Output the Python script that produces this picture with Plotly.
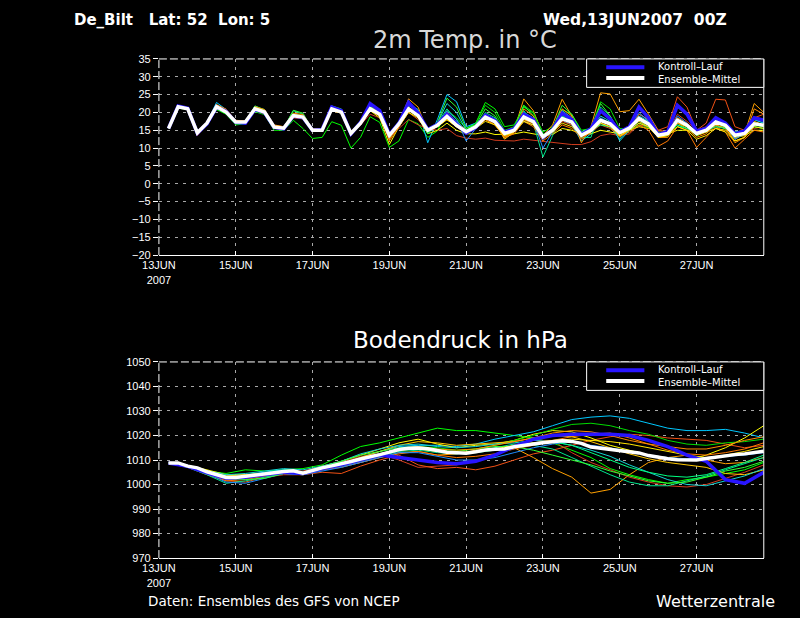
import pandas as pd
import plotly.graph_objects as go

# ---------------- time axis ----------------
times6 = pd.date_range("2007-06-13 06:00", periods=63, freq="6h")
times12 = pd.date_range("2007-06-13 06:00", periods=32, freq="12h")
tick_dates = ["2007-06-13", "2007-06-15", "2007-06-17", "2007-06-19",
              "2007-06-21", "2007-06-23", "2007-06-25", "2007-06-27"]
tick_text = ["13JUN<br>2007", "15JUN", "17JUN", "19JUN", "21JUN", "23JUN", "25JUN", "27JUN"]
temp_ticks = [-20, -15, -10, -5, 0, 5, 10, 15, 20, 25, 30, 35]
pres_ticks = [970, 980, 990, 1000, 1010, 1020, 1030, 1040, 1050]

# ---------------- 2m temperature (6-hourly, 06Z 13JUN .. 18Z 28JUN) ----------------
temp_mean = [
    15.5, 21.6, 21.0, 14.3, 17.0, 21.6, 20.1, 17.3, 17.3, 21.0, 20.1, 15.9, 15.6, 19.1, 18.7, 15.0,
    15.0, 21.0, 20.1, 14.1, 17.0, 21.0, 19.5, 13.6, 16.8, 21.0, 19.1, 15.0, 16.4, 18.9, 16.4, 14.6,
    16.0, 18.7, 17.4, 14.1, 15.0, 18.7, 17.4, 13.2, 15.0, 18.3, 17.3, 13.6, 15.0, 17.8, 16.8, 14.3,
    15.6, 18.3, 16.8, 13.6, 14.1, 17.8, 16.4, 14.1, 15.0, 17.3, 16.4, 13.6, 14.1, 16.8, 16.4]
temp_control = [
    15.5, 21.8, 21.2, 14.2, 16.8, 21.5, 20.3, 17.2, 17.0, 20.8, 20.0, 15.8, 15.4, 19.0, 18.6, 15.0,
    15.2, 21.5, 20.5, 14.0, 17.2, 22.5, 20.5, 13.8, 17.0, 22.8, 19.8, 15.2, 16.6, 19.5, 16.8, 14.2,
    15.8, 19.2, 17.8, 14.5, 15.4, 19.5, 18.0, 13.0, 15.2, 19.8, 18.0, 13.8, 15.4, 20.5, 18.2, 14.6,
    16.0, 21.5, 18.5, 13.8, 14.6, 22.0, 19.5, 14.8, 15.5, 18.5, 17.0, 14.0, 14.8, 18.5, 17.8]
t_m01 = [
    15.4, 21.2, 20.8, 14.0, 16.5, 20.8, 19.5, 16.5, 16.8, 20.2, 19.4, 15.0, 15.0, 17.8, 15.5, 12.7,
    13.0, 17.4, 16.4, 10.0, 13.0, 18.8, 17.2, 10.2, 12.0, 18.0, 16.8, 13.0, 14.8, 20.5, 18.5, 15.5,
    17.0, 22.8, 21.0, 16.0, 16.5, 21.5, 19.8, 14.5, 16.0, 20.8, 19.5, 15.0, 15.5, 18.0, 16.5, 15.2,
    15.0, 16.5, 15.8, 14.5, 14.5, 16.0, 15.5, 14.8, 15.0, 16.2, 15.8, 14.5, 14.6, 16.0, 15.5]
t_m02 = [
    15.6, 21.8, 21.3, 14.5, 17.2, 22.8, 20.8, 17.5, 17.4, 21.8, 20.6, 16.0, 15.8, 19.6, 19.0, 15.2,
    15.2, 21.8, 20.6, 14.5, 17.5, 22.0, 20.0, 14.0, 17.5, 22.5, 20.8, 11.5, 18.0, 25.0, 23.0, 16.0,
    17.0, 19.0, 17.5, 13.5, 14.5, 17.5, 16.5, 12.5, 14.8, 17.8, 16.5, 12.0, 14.0, 17.0, 15.8, 12.5,
    15.5, 19.5, 18.0, 14.0, 14.5, 21.5, 19.5, 15.0, 15.5, 18.0, 16.8, 12.5, 14.5, 18.2, 17.5]
t_m03 = [
    15.5, 21.5, 21.2, 14.6, 17.2, 22.0, 20.8, 17.6, 17.5, 21.5, 20.5, 16.2, 15.8, 19.4, 19.2, 15.2,
    15.0, 20.8, 20.3, 14.6, 16.5, 21.5, 20.2, 12.5, 17.0, 23.8, 21.5, 14.5, 16.0, 20.0, 17.5, 15.0,
    15.8, 19.5, 18.0, 13.0, 15.0, 23.8, 20.5, 13.5, 16.5, 23.7, 19.0, 11.5, 16.0, 25.5, 25.2, 20.2,
    20.5, 23.7, 19.5, 15.0, 14.5, 18.5, 17.0, 13.5, 14.5, 17.0, 16.0, 12.5, 14.0, 22.5, 20.0]
t_m04 = [
    15.5, 21.4, 20.8, 13.5, 16.8, 21.0, 20.0, 17.0, 17.0, 20.5, 19.6, 15.6, 15.2, 18.5, 18.2, 14.8,
    14.8, 20.5, 19.8, 13.8, 16.5, 19.5, 18.5, 14.0, 15.5, 18.0, 16.5, 15.5, 15.0, 15.5, 13.5, 12.8,
    12.5, 12.8, 12.2, 12.0, 12.0, 12.5, 12.2, 11.8, 11.5, 11.2, 11.0, 11.0, 11.8, 13.5, 14.0, 13.5,
    14.0, 16.5, 16.0, 15.0, 14.5, 19.5, 17.5, 15.0, 16.0, 18.0, 16.5, 14.5, 14.0, 15.5, 16.0]
t_m05 = [
    15.4, 21.6, 21.0, 14.0, 17.0, 21.8, 20.5, 17.0, 17.2, 20.8, 20.0, 15.5, 15.4, 18.8, 18.4, 14.8,
    14.8, 20.6, 20.0, 13.5, 16.8, 20.5, 19.0, 12.8, 16.0, 20.0, 18.0, 14.8, 16.5, 18.5, 16.0, 14.0,
    15.5, 18.5, 17.0, 13.5, 14.5, 18.0, 16.5, 12.5, 14.5, 17.5, 16.5, 13.5, 14.5, 16.5, 15.5, 13.5,
    15.0, 19.5, 18.0, 15.0, 16.0, 24.4, 21.5, 15.0, 17.0, 23.7, 23.5, 16.0, 15.0, 18.5, 19.5]
t_m06 = [
    15.5, 21.5, 20.9, 14.4, 16.9, 21.2, 19.8, 17.0, 17.0, 20.6, 19.8, 16.0, 15.6, 19.0, 18.5, 15.0,
    15.0, 20.5, 19.8, 14.0, 16.5, 20.5, 18.5, 11.0, 16.0, 20.0, 18.5, 14.0, 15.0, 17.0, 15.0, 14.0,
    14.0, 14.5, 13.8, 13.8, 14.0, 14.5, 14.0, 13.5, 13.8, 15.5, 15.0, 14.0, 14.0, 15.0, 14.5, 14.0,
    15.0, 16.0, 15.5, 14.5, 14.0, 15.0, 15.0, 14.0, 14.5, 15.5, 15.0, 13.0, 13.5, 15.0, 15.0]
t_m07 = [
    15.6, 21.7, 21.1, 14.6, 17.1, 21.6, 20.2, 17.4, 17.4, 21.2, 20.3, 16.2, 15.8, 19.8, 19.0, 15.3,
    15.1, 21.2, 20.4, 14.4, 17.2, 21.5, 20.8, 13.0, 17.0, 21.0, 20.0, 15.5, 16.8, 18.5, 16.5, 15.0,
    17.0, 22.0, 20.0, 15.0, 16.0, 22.0, 20.0, 14.0, 14.0, 19.0, 18.0, 14.0, 15.5, 23.0, 21.0, 15.5,
    15.5, 18.5, 17.0, 13.5, 13.5, 17.0, 16.0, 14.0, 15.0, 17.0, 16.0, 13.5, 14.0, 16.5, 16.0]
t_m08 = [
    15.5, 21.6, 21.0, 14.3, 17.0, 21.8, 20.4, 17.2, 17.2, 21.0, 20.0, 15.8, 15.5, 20.5, 19.5, 15.0,
    15.0, 21.0, 20.0, 14.2, 17.0, 22.0, 20.0, 14.0, 17.0, 22.0, 20.5, 14.0, 17.0, 21.0, 18.0, 14.5,
    16.0, 20.0, 18.5, 13.5, 15.0, 20.5, 17.0, 7.5, 13.5, 19.0, 17.0, 13.0, 13.0, 21.5, 19.0, 14.5,
    15.5, 17.5, 16.5, 14.0, 14.5, 16.5, 15.5, 14.0, 14.5, 16.5, 15.5, 14.0, 14.0, 17.0, 16.5]
t_m09 = [
    15.5, 21.5, 20.9, 14.0, 16.8, 21.4, 20.0, 17.0, 17.0, 20.6, 19.8, 15.8, 15.2, 18.6, 18.2, 14.8,
    14.8, 20.8, 19.8, 13.8, 16.5, 21.0, 19.5, 12.0, 16.0, 20.5, 19.0, 15.0, 16.0, 18.0, 16.0, 14.5,
    15.5, 18.0, 16.5, 13.0, 14.0, 17.5, 16.0, 12.0, 14.0, 16.5, 15.5, 13.0, 14.5, 17.0, 16.0, 13.5,
    14.5, 16.5, 15.0, 10.5, 12.0, 16.0, 15.0, 10.2, 13.0, 16.0, 14.5, 10.0, 12.5, 15.0, 14.5]
t_m10 = [
    15.5, 21.7, 21.0, 14.3, 17.0, 21.5, 20.0, 17.2, 17.3, 21.2, 20.3, 16.0, 15.5, 19.2, 18.8, 15.1,
    15.0, 21.3, 20.6, 14.5, 17.0, 22.5, 20.8, 14.0, 17.0, 22.0, 20.0, 14.5, 16.5, 20.5, 18.0, 12.0,
    15.5, 18.5, 17.0, 14.0, 15.0, 19.0, 17.5, 10.0, 14.5, 19.5, 17.5, 13.5, 15.0, 18.5, 17.0, 15.0,
    16.0, 20.0, 17.5, 13.0, 14.0, 19.0, 17.0, 14.0, 15.0, 18.0, 16.5, 12.5, 14.0, 18.0, 17.0]
t_m11 = [
    15.5, 21.4, 21.0, 14.5, 17.0, 21.5, 20.0, 17.5, 17.5, 21.4, 20.6, 16.3, 16.0, 19.5, 19.0, 15.3,
    15.3, 21.0, 20.0, 14.3, 17.0, 21.0, 19.0, 12.8, 16.5, 20.5, 19.5, 15.5, 16.0, 18.0, 16.0, 15.0,
    16.0, 18.5, 17.0, 12.5, 14.5, 18.0, 17.0, 13.0, 15.0, 18.5, 17.0, 14.0, 15.0, 17.5, 16.5, 13.0,
    15.5, 17.5, 16.0, 13.0, 13.5, 17.0, 16.0, 13.5, 14.5, 16.5, 15.5, 12.0, 13.0, 17.5, 16.5]
t_m12 = [
    15.5, 21.6, 21.1, 14.4, 17.1, 21.9, 20.5, 17.4, 17.4, 21.0, 20.2, 15.9, 15.6, 19.3, 18.9, 15.0,
    15.0, 21.0, 20.2, 14.2, 17.2, 21.5, 19.8, 13.5, 17.0, 21.5, 19.5, 15.5, 17.0, 22.5, 20.0, 15.0,
    16.5, 19.5, 18.0, 14.0, 15.5, 20.0, 18.5, 12.5, 15.0, 20.5, 18.5, 14.5, 15.5, 19.0, 17.5, 12.0,
    15.0, 19.0, 17.5, 14.0, 14.5, 18.0, 16.5, 14.5, 15.5, 17.5, 16.5, 14.5, 15.0, 18.0, 17.0]
t_m13 = [
    15.5, 21.5, 21.0, 14.4, 17.0, 21.0, 19.8, 16.8, 17.0, 21.8, 20.8, 16.0, 15.6, 20.6, 19.8, 15.2,
    15.2, 21.8, 21.0, 14.5, 17.0, 21.5, 20.5, 13.5, 16.5, 22.5, 20.5, 14.0, 17.0, 24.0, 21.5, 15.5,
    16.5, 21.0, 19.0, 14.5, 15.5, 22.0, 19.0, 13.5, 15.5, 22.0, 19.5, 14.5, 15.0, 22.5, 19.0, 14.0,
    15.5, 18.0, 16.5, 13.5, 14.0, 17.5, 16.0, 13.5, 15.0, 17.0, 16.0, 13.5, 14.5, 16.5, 16.0]
t_m14 = [
    15.6, 21.7, 21.2, 14.7, 17.3, 22.2, 20.9, 17.8, 17.6, 21.6, 20.8, 16.5, 16.0, 19.8, 19.4, 15.5,
    15.4, 21.4, 20.6, 14.8, 17.4, 22.0, 20.0, 12.5, 16.5, 21.5, 19.5, 14.8, 16.5, 19.5, 17.0, 14.0,
    15.5, 18.0, 16.5, 13.0, 14.5, 21.0, 19.0, 12.5, 15.0, 21.0, 19.0, 12.5, 14.5, 17.5, 16.5, 13.5,
    15.0, 18.0, 16.5, 13.0, 13.0, 17.0, 15.5, 13.0, 14.0, 16.5, 15.5, 11.5, 13.0, 21.0, 19.5]
t_m15 = [
    15.5, 21.5, 20.8, 14.2, 16.9, 21.3, 20.0, 17.0, 17.1, 20.8, 19.9, 15.7, 15.4, 19.0, 18.6, 14.9,
    14.9, 20.8, 19.9, 13.9, 16.8, 21.0, 19.5, 13.0, 16.5, 21.0, 19.0, 15.0, 16.0, 19.5, 17.5, 14.5,
    16.0, 19.5, 18.0, 14.0, 15.0, 19.0, 17.5, 13.5, 15.0, 18.5, 17.5, 14.0, 15.0, 16.5, 16.0, 14.5,
    15.0, 17.0, 16.0, 14.0, 14.5, 16.5, 15.5, 14.5, 15.0, 16.0, 15.5, 14.5, 14.5, 16.0, 15.5]
t_m16 = [
    15.5, 21.4, 21.0, 14.3, 17.0, 21.4, 20.1, 17.1, 17.2, 20.9, 20.1, 15.8, 15.5, 19.0, 18.6, 15.0,
    15.0, 20.9, 20.0, 14.0, 17.0, 21.0, 19.5, 13.5, 16.5, 21.0, 19.5, 15.0, 16.0, 18.0, 16.0, 14.5,
    15.5, 17.5, 16.5, 13.5, 14.5, 17.5, 16.5, 13.0, 14.5, 17.0, 16.0, 14.0, 14.5, 17.0, 16.0, 13.5,
    15.0, 17.0, 16.0, 13.0, 13.5, 16.0, 15.0, 12.5, 13.5, 15.5, 14.5, 12.0, 13.0, 16.0, 15.5]

# ---------------- surface pressure ----------------
pres_mean = [  # 6-hourly
    1008.8, 1008.8, 1007.5, 1006.8, 1005.2, 1004.2, 1002.9, 1002.9, 1003.3, 1003.8, 1004.2, 1004.8,
    1005.3, 1005.6, 1004.6, 1005.8, 1006.8, 1007.6, 1008.4, 1009.4, 1010.4, 1011.2, 1012.2, 1013.2,
    1014.3, 1014.8, 1014.9, 1014.6, 1013.8, 1013.2, 1013.0, 1012.8, 1013.4, 1014.1, 1014.4, 1014.5,
    1015.4, 1016.1, 1016.5, 1017.0, 1017.5, 1017.9, 1017.6, 1016.8, 1015.3, 1014.8, 1014.4, 1013.9,
    1013.4, 1012.9, 1011.8, 1011.0, 1010.5, 1010.1, 1009.9, 1010.0, 1010.6, 1011.2, 1011.9, 1012.2,
    1012.5, 1013.0, 1013.6]
# members and control: 12-hourly (06Z / 18Z)
pres_control = [
    1008.8, 1007.4, 1004.8, 1002.6, 1003.0, 1004.0, 1005.0, 1004.5, 1006.5, 1008.0, 1010.0, 1012.0,
    1011.0, 1010.0, 1009.0, 1008.5, 1009.5, 1012.0, 1015.5, 1018.5, 1020.0, 1020.5, 1020.5, 1020.5,
    1020.0, 1018.0, 1015.5, 1012.0, 1009.5, 1002.0, 1000.5, 1005.0]
p_m01 = [
    1008.8, 1007.0, 1005.5, 1004.5, 1006.0, 1005.5, 1006.0, 1006.5, 1008.0, 1012.0, 1015.5, 1017.0,
    1019.0, 1021.0, 1023.0, 1022.0, 1022.0, 1021.0, 1020.0, 1019.0, 1017.0, 1014.0, 1011.0, 1006.5,
    1004.0, 1002.0, 1000.5, 1002.0, 1003.0, 1004.5, 1006.0, 1009.0]
p_m02 = [
    1008.8, 1007.6, 1005.5, 1003.5, 1004.0, 1005.0, 1006.0, 1005.0, 1007.0, 1008.5, 1011.0, 1013.5,
    1015.5, 1016.0, 1016.0, 1015.5, 1016.5, 1018.5, 1020.0, 1021.5, 1024.0, 1026.5, 1027.5, 1028.0,
    1027.0, 1025.0, 1023.0, 1022.0, 1022.0, 1022.5, 1021.0, 1019.0]
p_m03 = [
    1008.8, 1007.2, 1004.5, 1002.0, 1002.5, 1003.5, 1004.5, 1004.0, 1006.0, 1007.5, 1009.0, 1011.0,
    1013.0, 1013.5, 1012.0, 1012.5, 1014.0, 1014.5, 1015.0, 1011.0, 1006.5, 1003.0, 996.5, 998.0,
    1004.0, 1009.0, 1011.0, 1012.0, 1010.0, 1008.5, 1009.0, 1011.0]
p_m04 = [
    1008.8, 1007.5, 1005.0, 1003.0, 1003.5, 1004.5, 1005.5, 1005.5, 1007.5, 1009.0, 1011.5, 1012.5,
    1010.0, 1007.0, 1007.5, 1008.0, 1010.0, 1012.0, 1016.0, 1018.0, 1018.0, 1013.0, 1009.0, 1006.0,
    1003.0, 1001.0, 999.5, 999.0, 1000.0, 1002.5, 1005.0, 1008.0]
p_m05 = [
    1008.8, 1007.0, 1004.0, 1001.5, 1001.0, 1003.0, 1004.0, 1004.0, 1005.0, 1004.5, 1007.5, 1010.0,
    1012.0, 1008.0, 1006.5, 1007.0, 1006.0, 1007.5, 1010.0, 1012.5, 1014.0, 1016.0, 1018.0, 1019.5,
    1020.5, 1020.0, 1019.0, 1018.5, 1018.0, 1016.5, 1015.0, 1016.0]
p_m06 = [
    1008.8, 1007.8, 1006.0, 1004.0, 1004.0, 1004.5, 1005.5, 1005.0, 1007.5, 1009.5, 1012.0, 1014.5,
    1017.0, 1018.5, 1016.5, 1015.0, 1016.0, 1016.5, 1018.0, 1020.5, 1022.0, 1021.5, 1019.0, 1016.0,
    1014.0, 1012.0, 1011.0, 1010.0, 1012.0, 1015.0, 1019.0, 1024.0]
p_m07 = [
    1008.8, 1007.4, 1005.0, 1002.5, 1003.0, 1004.0, 1005.0, 1004.5, 1006.5, 1008.5, 1010.5, 1012.5,
    1014.5, 1015.5, 1015.0, 1014.0, 1014.5, 1016.0, 1018.0, 1020.0, 1022.5, 1024.5, 1025.0, 1024.0,
    1022.0, 1020.5, 1018.0, 1016.5, 1016.0, 1017.0, 1017.5, 1018.5]
p_m08 = [
    1008.8, 1007.0, 1004.0, 1000.5, 1001.5, 1003.0, 1004.5, 1004.0, 1006.0, 1007.5, 1009.5, 1011.5,
    1013.5, 1014.0, 1013.0, 1012.5, 1013.5, 1015.0, 1016.5, 1016.0, 1014.5, 1011.0, 1007.5, 1004.0,
    1001.0, 999.5, 999.5, 1001.5, 1003.5, 1006.0, 1008.5, 1011.0]
p_m09 = [
    1008.8, 1007.3, 1004.5, 1001.5, 1002.0, 1003.5, 1005.0, 1004.5, 1006.0, 1007.0, 1009.0, 1011.0,
    1012.5, 1013.5, 1012.0, 1011.0, 1011.5, 1012.5, 1014.5, 1016.0, 1018.0, 1019.5, 1020.5, 1021.0,
    1019.0, 1016.5, 1014.0, 1012.5, 1012.0, 1013.0, 1014.5, 1017.0]
p_m10 = [
    1008.8, 1007.2, 1004.5, 1001.0, 1000.5, 1002.5, 1004.5, 1004.0, 1005.5, 1007.0, 1009.0, 1011.0,
    1013.0, 1013.0, 1011.5, 1010.0, 1010.0, 1011.0, 1013.0, 1015.0, 1016.5, 1017.5, 1016.0, 1015.0,
    1013.5, 1012.0, 1011.0, 1010.5, 1011.0, 1011.5, 1012.0, 1013.0]
p_m11 = [
    1008.8, 1007.6, 1005.5, 1003.5, 1004.0, 1004.5, 1005.5, 1005.0, 1007.0, 1008.5, 1011.0, 1013.5,
    1016.0, 1017.5, 1017.0, 1016.0, 1016.5, 1017.0, 1017.5, 1019.0, 1020.0, 1019.5, 1017.5, 1015.0,
    1012.5, 1010.5, 1009.0, 1008.0, 1007.0, 1004.5, 1004.0, 1006.0]
p_m12 = [
    1008.8, 1007.8, 1005.5, 1004.0, 1004.5, 1005.5, 1006.5, 1006.0, 1007.5, 1009.5, 1012.5, 1014.5,
    1016.0, 1016.5, 1015.5, 1015.0, 1015.5, 1016.5, 1017.0, 1018.0, 1017.5, 1016.0, 1014.0, 1011.5,
    1008.0, 1005.0, 1002.0, 1000.0, 999.5, 1001.5, 1003.5, 1006.5]
p_m13 = [
    1008.8, 1007.5, 1005.0, 1002.5, 1002.0, 1002.5, 1004.5, 1005.0, 1007.0, 1009.5, 1012.0, 1013.5,
    1015.0, 1015.5, 1014.0, 1013.5, 1014.5, 1015.5, 1015.5, 1014.0, 1012.0, 1010.0, 1008.0, 1005.5,
    1003.5, 1001.5, 1000.5, 1001.0, 1003.0, 1005.5, 1007.0, 1009.5]
p_m14 = [
    1008.8, 1007.6, 1005.0, 1003.0, 1003.5, 1004.5, 1005.5, 1005.0, 1007.0, 1008.5, 1010.5, 1012.5,
    1014.5, 1015.5, 1014.5, 1014.0, 1014.5, 1016.0, 1017.5, 1019.0, 1021.0, 1022.0, 1021.5, 1020.0,
    1018.0, 1016.5, 1015.5, 1014.5, 1014.5, 1016.0, 1018.0, 1019.5]
p_m15 = [
    1008.8, 1007.4, 1005.5, 1003.0, 1003.5, 1004.0, 1005.0, 1004.5, 1006.5, 1008.0, 1010.5, 1012.0,
    1014.0, 1014.5, 1013.5, 1013.0, 1013.0, 1014.0, 1015.5, 1017.0, 1017.5, 1016.0, 1013.0, 1010.0,
    1007.0, 1005.0, 1003.5, 1003.0, 1004.0, 1006.5, 1009.0, 1012.0]
p_m16 = [
    1008.8, 1007.5, 1005.0, 1003.0, 1003.5, 1004.0, 1005.0, 1005.0, 1006.5, 1008.0, 1010.0, 1012.0,
    1014.0, 1014.5, 1013.5, 1013.0, 1013.5, 1014.5, 1016.0, 1017.0, 1018.0, 1018.5, 1018.0, 1017.5,
    1016.5, 1015.0, 1013.5, 1012.0, 1011.0, 1012.0, 1013.5, 1015.5]

member_colors = ["#00ff00", "#00c8ff", "#ffa000", "#d23c1e", "#f05014", "#ffff00", "#00dc00", "#00e68c",
                 "#ff7800", "#1e8cff", "#ffc800", "#14d2d2", "#32ff32", "#ff8c00", "#00ff80", "#ffe600"]
control_color = "#2814ff"
mean_color = "#ffffff"

temp_members = [t_m01, t_m02, t_m03, t_m04, t_m05, t_m06, t_m07, t_m08,
                t_m09, t_m10, t_m11, t_m12, t_m13, t_m14, t_m15, t_m16]
pres_members = [p_m01, p_m02, p_m03, p_m04, p_m05, p_m06, p_m07, p_m08,
                p_m09, p_m10, p_m11, p_m12, p_m13, p_m14, p_m15, p_m16]

# ---------------- figure ----------------
W, H = 800, 618
X0, X1 = 145 / W, 763 / W
TOP = (1 - 254 / H, 1 - 54 / H)
BOT = (1 - 563 / H, 1 - 363 / H)
FONT = "Liberation Sans"
WIDE = "DejaVu Sans"

fig = go.Figure()
for vals, col in zip(temp_members, member_colors):
    fig.add_trace(go.Scatter(x=times6, y=vals, mode="lines", line=dict(color=col, width=1),
                             xaxis="x", yaxis="y", showlegend=False, hoverinfo="skip"))
fig.add_trace(go.Scatter(x=times6, y=temp_control, mode="lines", line=dict(color=control_color, width=3.5),
                         xaxis="x", yaxis="y", showlegend=False, hoverinfo="skip"))
fig.add_trace(go.Scatter(x=times6, y=temp_mean, mode="lines", line=dict(color=mean_color, width=3.5),
                         xaxis="x", yaxis="y", showlegend=False, hoverinfo="skip"))
for vals, col in zip(pres_members, member_colors):
    fig.add_trace(go.Scatter(x=times12, y=vals, mode="lines", line=dict(color=col, width=1),
                             xaxis="x2", yaxis="y2", showlegend=False, hoverinfo="skip"))
fig.add_trace(go.Scatter(x=times12, y=pres_control, mode="lines", line=dict(color=control_color, width=3.5),
                         xaxis="x2", yaxis="y2", showlegend=False, hoverinfo="skip"))
fig.add_trace(go.Scatter(x=times6, y=pres_mean, mode="lines", line=dict(color=mean_color, width=3.5),
                         xaxis="x2", yaxis="y2", showlegend=False, hoverinfo="skip"))

grid = dict(showgrid=True, gridcolor="#a8a8a8", gridwidth=1, griddash="3px,5px", zeroline=False)
xcommon = dict(type="date", range=["2007-06-13 00:00", "2007-06-28 18:00"], domain=[X0, X1],
               tickvals=tick_dates, ticktext=tick_text, ticks="inside", ticklen=4, tickcolor="white",
               showline=True, linecolor="white", linewidth=1,
               tickfont=dict(family=FONT, size=11, color="white"), **grid)
ycommon = dict(ticks="outside", ticklen=5, tickcolor="white", showline=False,
               tickfont=dict(family=FONT, size=11, color="white"), **grid)

fig.update_layout(
    width=W, height=H, margin=dict(l=0, r=0, t=0, b=0),
    paper_bgcolor="black", plot_bgcolor="black", showlegend=False,
    xaxis=dict(anchor="y", **xcommon),
    yaxis=dict(anchor="x", domain=list(TOP), range=[-20, 35], tickvals=temp_ticks, **ycommon),
    xaxis2=dict(anchor="y2", **xcommon),
    yaxis2=dict(anchor="x2", domain=list(BOT), range=[970, 1050], tickvals=pres_ticks, **ycommon),
)

shapes = []
for (yb, yt) in (TOP, BOT):
    shapes.append(dict(type="line", xref="paper", yref="paper", x0=X0, x1=X1, y0=yt, y1=yt,
                       line=dict(color="white", width=1, dash="8px,3px")))
    shapes.append(dict(type="line", xref="paper", yref="paper", x0=X0, x1=X0, y0=yb, y1=yt,
                       line=dict(color="white", width=1, dash="8px,3px")))
    shapes.append(dict(type="line", xref="paper", yref="paper", x0=X1, x1=X1, y0=yb, y1=yt,
                       line=dict(color="white", width=1)))

annotations = []
# legend boxes (frame with sample lines and one two-line label)
for top_px in (54, 363):
    bx0, bx1 = 582 / W, 763 / W
    shapes.append(dict(type="rect", xref="paper", yref="paper", x0=bx0, x1=bx1,
                       y0=1 - (top_px + 29) / H, y1=1 - top_px / H,
                       line=dict(color="white", width=1), fillcolor="black"))
    for dy, col in ((8.5, control_color), (19.5, mean_color)):
        yy = 1 - (top_px + dy) / H
        shapes.append(dict(type="line", xref="paper", yref="paper", x0=602 / W, x1=641 / W, y0=yy, y1=yy,
                           line=dict(color=col, width=4)))
    annotations.append(dict(xref="paper", yref="paper", x=654 / W, y=1 - (top_px + 14) / H,
                            text="Kontroll\u2013Lauf<br>Ensemble\u2013Mittel", showarrow=False,
                            xanchor="left", yanchor="middle", align="left", borderpad=0,
                            font=dict(family=WIDE, size=10, color="white")))

annotations += [
    dict(xref="paper", yref="paper", x=57 / W, y=1 - 14 / H, text="<b>De_Bilt   Lat: 52  Lon: 5</b>",
         showarrow=False, xanchor="left", yanchor="middle", align="left", borderpad=0,
         font=dict(family=WIDE, size=15, color="white")),
    dict(xref="paper", yref="paper", x=726 / W, y=1 - 14 / H, text="<b>Wed,13JUN2007  00Z</b>",
         showarrow=False, xanchor="right", yanchor="middle", align="right", borderpad=0,
         font=dict(family=WIDE, size=15.5, color="white")),
    dict(xref="paper", yref="paper", x=458 / W, y=1 - 35 / H, text="2m Temp. in \u00b0C",
         showarrow=False, xanchor="center", yanchor="middle", borderpad=0,
         font=dict(family="DejaVu Sans ExtraLight, DejaVu Sans", size=24, color="#d8d8d8")),
    dict(xref="paper", yref="paper", x=453 / W, y=1 - 341 / H, text="Bodendruck in hPa",
         showarrow=False, xanchor="center", yanchor="middle", borderpad=0,
         font=dict(family=WIDE, size=23, color="white")),
    dict(xref="paper", yref="paper", x=133 / W, y=1 - 607 / H, text="Daten: Ensembles des GFS von NCEP",
         showarrow=False, xanchor="left", yanchor="middle", align="left", borderpad=0,
         font=dict(family=WIDE, size=13.5, color="white")),
    dict(xref="paper", yref="paper", x=775 / W, y=1 - 607 / H, text="Wetterzentrale",
         showarrow=False, xanchor="right", yanchor="middle", align="right", borderpad=0,
         font=dict(family=WIDE, size=16, color="white")),
]

fig.update_layout(shapes=shapes, annotations=annotations)
fig.write_html("out.html", config={"displayModeBar": False},
               post_script="document.body.style.margin='0px';document.body.style.overflow='hidden';")
